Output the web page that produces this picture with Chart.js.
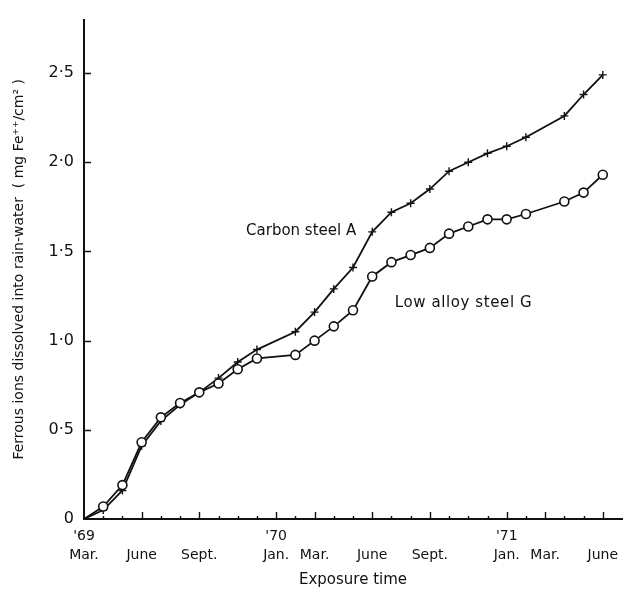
<!DOCTYPE html>
<html>
<head>
<meta charset="utf-8">
<title>Ferrous ions dissolved into rain-water</title>
<script src="https://cdn.jsdelivr.net/npm/chart.js@4.4.1/dist/chart.umd.min.js"></script>
<style>
  html, body { margin: 0; padding: 0; background: #fff; }
</style>
</head>
<body>
<canvas id="chart" width="632" height="592"></canvas>
<script>
"use strict";

// Månader räknat från mars 1969 (0 = Mar. '69)
const months = [0, 1, 2, 3, 4, 5, 6, 7, 8, 9, 11, 12, 13, 14, 15, 16, 17, 18, 19, 20, 21, 22, 23, 25, 26, 27];

// mg Fe++/cm2
const carbonSteelA = [0, 0.05, 0.16, 0.41, 0.55, 0.64, 0.71, 0.79, 0.88, 0.95, 1.05, 1.16, 1.29, 1.41, 1.61, 1.72, 1.77, 1.85, 1.95, 2.0, 2.05, 2.09, 2.14, 2.26, 2.38, 2.49];
const lowAlloySteelG = [0, 0.07, 0.19, 0.43, 0.57, 0.65, 0.71, 0.76, 0.84, 0.9, 0.92, 1.0, 1.08, 1.17, 1.36, 1.44, 1.48, 1.52, 1.6, 1.64, 1.68, 1.68, 1.71, 1.78, 1.83, 1.93];

const seriesNames = ["Carbon steel A", "Low alloy steel G"];

// x-axelns streck och etiketter
const xTickMonths = [0, 1, 2, 3, 4, 5, 6, 7, 8, 9, 10, 11, 12, 13, 14, 15, 16, 17, 18, 19, 20, 21, 22, 23, 24, 25, 26, 27];
const labelMonths = [0, 3, 6, 10, 12, 15, 18, 22, 24, 27];
const monthNames = ["Mar.", "June", "Sept.", "Jan.", "Mar.", "June", "Sept.", "Jan.", "Mar.", "June"];
const yearNames = ["'69", "", "", "'70", "", "", "", "'71", "", ""];

// y-axeln
const yTicks = [0, 0.5, 1, 1.5, 2, 2.5];
const yTickLabels = ["0", "0·5", "1·0", "1·5", "2·0", "2·5"];

const ink = "#111";
const family = "'DejaVu Sans', sans-serif";

// Par av [x, y] till Chart.js
function toPoints(values) {
  return months.map((m, i) => ({ x: m, y: values[i] }));
}

// små streck som pekar in i diagrammet
const inwardTicks = {
  id: "inwardTicks",
  afterDraw(chart) {
    const { ctx, chartArea } = chart;
    const xs = chart.scales.x;
    const ys = chart.scales.y;
    ctx.save();
    ctx.strokeStyle = ink;
    ctx.lineWidth = 1.4;
    ctx.beginPath();
    xs.ticks.forEach((t) => {
      if (t.value === 0) return;
      const px = Math.round(xs.getPixelForValue(t.value)) + 0.5;
      const len = labelMonths.includes(t.value) ? 7 : 3;
      ctx.moveTo(px, chartArea.bottom);
      ctx.lineTo(px, chartArea.bottom - len);
    });
    ys.ticks.forEach((t) => {
      if (t.value === 0) return;
      const py = Math.round(ys.getPixelForValue(t.value)) + 0.5;
      ctx.moveTo(chartArea.left, py);
      ctx.lineTo(chartArea.left + 7, py);
    });
    ctx.stroke();
    ctx.restore();
  },
};

// namnen på kurvorna, skrivna direkt i diagrammet
const curveNames = {
  id: "curveNames",
  afterDatasetsDraw(chart) {
    const { ctx } = chart;
    const xs = chart.scales.x;
    const ys = chart.scales.y;
    ctx.save();
    ctx.font = "15px " + family;
    ctx.fillStyle = ink;
    ctx.textAlign = "center";
    ctx.textBaseline = "middle";
    ctx.fillText(seriesNames[0], xs.getPixelForValue(11.3), ys.getPixelForValue(1.615));
    ctx.letterSpacing = "0.6px";
    ctx.fillText(seriesNames[1], xs.getPixelForValue(19.75), ys.getPixelForValue(1.21));
    ctx.restore();
  },
};

const config = {
  type: "line",
  data: {
    datasets: [
      {
        label: seriesNames[0],
        data: toPoints(carbonSteelA),
        borderColor: ink,
        borderWidth: 1.8,
        pointStyle: "cross",
        pointRadius: (c) => (c.dataIndex === 0 ? 0 : 4),
        pointBorderWidth: 1.4,
        pointBorderColor: ink,
        tension: 0,
        order: 2,
      },
      {
        label: seriesNames[1],
        data: toPoints(lowAlloySteelG),
        borderColor: ink,
        borderWidth: 1.8,
        pointStyle: "circle",
        pointRadius: (c) => (c.dataIndex === 0 ? 0 : 4.5),
        pointBorderWidth: 1.6,
        pointBorderColor: ink,
        pointBackgroundColor: "#fff",
        tension: 0,
        order: 1,
      },
    ],
  },
  options: {
    responsive: false,
    animation: false,
    layout: { padding: { top: 12, right: 10, bottom: 0, left: 4 } },
    plugins: {
      legend: { display: false },
      tooltip: { enabled: false },
    },
    scales: {
      x: {
        type: "linear",
        min: 0,
        max: 28,
        afterBuildTicks: (axis) => {
          axis.ticks = xTickMonths.map((v) => ({ value: v }));
        },
        afterFit: (axis) => {
          axis.height = 73;
        },
        ticks: {
          autoSkip: false,
          maxRotation: 0,
          padding: 8,
          color: ink,
          font: { family: family, size: 14, lineHeight: 1.35 },
          callback: (value) => {
            const i = labelMonths.indexOf(value);
            if (i < 0) return "";
            return [yearNames[i], monthNames[i]];
          },
        },
        grid: { drawOnChartArea: false, drawTicks: false },
        border: { color: ink, width: 2 },
        title: {
          display: true,
          text: "Exposure time",
          color: ink,
          font: { family: family, size: 15, lineHeight: 1.2 },
          padding: { top: 4, bottom: 3 },
        },
      },
      y: {
        min: 0,
        max: 2.8,
        afterBuildTicks: (axis) => {
          axis.ticks = yTicks.map((v) => ({ value: v }));
        },
        afterFit: (axis) => {
          axis.width = 80;
        },
        ticks: {
          padding: 10,
          color: ink,
          font: { family: family, size: 16 },
          callback: (value) => {
            const i = yTicks.indexOf(value);
            return i < 0 ? "" : yTickLabels[i];
          },
        },
        grid: { drawOnChartArea: false, drawTicks: false },
        border: { color: ink, width: 2 },
        title: {
          display: true,
          text: "Ferrous ions dissolved into rain-water  ( mg Fe⁺⁺/cm² )",
          color: ink,
          font: { family: family, size: 14, lineHeight: 1.2 },
          padding: { top: 7, bottom: 10 },
        },
      },
    },
  },
  plugins: [inwardTicks, curveNames],
};

new Chart(document.getElementById("chart"), config);
</script>
</body>
</html>
